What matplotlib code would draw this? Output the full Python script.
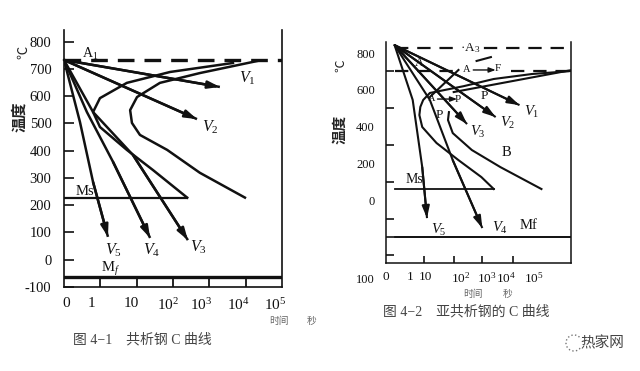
import numpy as np
import matplotlib.pyplot as plt
from matplotlib.patches import Arc

plt.rcParams['font.family'] = ['Liberation Serif', 'Noto Sans CJK SC']
plt.rcParams['mathtext.fontset'] = 'custom'
plt.rcParams['mathtext.rm'] = 'Liberation Serif'
plt.rcParams['mathtext.it'] = 'Liberation Serif:italic'

# ---------- 图4-1 共析钢 ----------
L_XTICK_POS = [0.06, 0.77, 1.84, 2.86, 3.77, 4.79, 5.81]
L_XTICK_LAB = ['0', '1', '10', '$10^2$', '$10^3$', '$10^4$', '$10^5$']
L_XMINOR = [1, 2, 3, 4, 5]
L_YTICKS = [800, 700, 600, 500, 400, 300, 200, 100, 0, -100]
L_A1 = 733
L_MS = 228
L_MS_END = 3.39
L_MF = -64
L_START_X = [4.65, 2.92, 1.73, 0.99, 0.80, 0.99, 1.73, 2.45, 3.39]
L_START_T = [722, 689, 649, 593, 542, 487, 403, 329, 228]
L_FINISH_X = [5.31, 3.74, 2.64, 2.01, 1.82, 1.87, 2.09, 2.84, 3.74, 4.98]
L_FINISH_T = [729, 685, 649, 597, 549, 502, 458, 403, 319, 228]
L_COOL = {
    'V1': ([0, 4.29], [733, 634]),
    'V2': ([0, 3.66], [733, 516]),
    'V3': ([0, 0.80, 1.90, 3.41], [733, 542, 384, 72]),
    'V4': ([0, 0.63, 1.35, 2.37], [733, 542, 359, 80]),
    'V5': ([0, 0.44, 0.80, 1.21], [733, 505, 285, 84]),
}
L_VLAB = {'V1': (5.04, 667), 'V2': (4.02, 487), 'V3': (3.69, 47),
          'V4': (2.42, 33), 'V5': (1.35, 36)}

# ---------- 图4-2 亚共析钢 ----------
R_XTICK_POS = [-0.36, 0.64, 1.28, 2.76, 3.88, 4.68, 5.84]
R_XTICK_LAB = ['0', '1', '10', '$10^2$', '$10^3$', '$10^4$', '$10^5$']
R_XMINOR = [1.24, 2.48, 3.68, 4.96]
R_YTICKS = [800, 600, 400, 200, 0]
R_YMINOR = [700, 500, 300, 100, -100, -200, -300]
R_A3 = 827
R_A1 = 702
R_MS = 61
R_MS_END = 4.16
R_MF = -200
R_FERRITE_X = [1.48, 2.68]
R_FERRITE_T = [561, 708]
R_FERRITE_EXT_X = [3.44, 4.04]
R_FERRITE_EXT_T = [757, 778]
R_START_X = [7.36, 5.76, 4.16, 2.9, 1.48, 1.2, 1.08, 1.04, 1.16, 1.76, 2.68, 3.64, 4.16]
R_START_T = [702, 686, 659, 620, 583, 545, 507, 463, 398, 311, 218, 126, 61]
R_FIN_UP_X = [7.36, 4.96, 2.48]
R_FIN_UP_T = [706, 648, 588]
R_B_X = [2.28, 2.24, 2.44, 3.24, 4.44, 6.16]
R_B_T = [479, 436, 365, 273, 180, 61]
R_COOL = {
    'V1': ([0, 5.24], [843, 517]),
    'V2': ([0, 4.24], [843, 452]),
    'V3': ([0, 3.04], [843, 414]),
    'V4': ([0, 1.48, 2.44, 3.68], [843, 545, 218, -151]),
    'V5': ([0, 0.76, 1.16, 1.36], [843, 545, 180, -97]),
}
R_VLAB = {'V1': (5.76, 479), 'V2': (4.76, 420), 'V3': (3.48, 371),
          'V4': (4.44, -151), 'V5': (1.84, -162)}

INK = '#111111'


def arrow_line(ax, xs, ys, lw):
    ax.plot(xs, ys, color=INK, lw=lw, solid_capstyle='butt')
    ax.annotate('', xy=(xs[-1], ys[-1]), xytext=(xs[-2], ys[-2]),
                arrowprops=dict(arrowstyle='-|>,head_length=0.7,head_width=0.22',
                                color=INK, lw=lw, shrinkA=0, shrinkB=0))


fig = plt.figure(figsize=(6.4, 3.71), dpi=100)

# ---- left panel ----
ax1 = fig.add_axes([64 / 640, 1 - 287 / 371, 218 / 640, 257 / 371])
ax1.set_xlim(0, 6.0)
ax1.set_ylim(-100, 843)
ax1.spines['top'].set_visible(False)
for s in ['left', 'right', 'bottom']:
    ax1.spines[s].set_linewidth(1.2)
    ax1.spines[s].set_color(INK)
ax1.set_yticks(L_YTICKS)
ax1.set_yticklabels([str(v) for v in L_YTICKS])
ax1.tick_params(axis='y', direction='in', length=7, width=1.2, pad=9,
                labelsize=10.5, colors=INK)
ax1.set_xticks(L_XTICK_POS)
ax1.set_xticklabels(L_XTICK_LAB)
ax1.tick_params(axis='x', which='major', length=0, pad=7, labelsize=11, colors=INK)
ax1.set_xticks(L_XMINOR, minor=True)
ax1.tick_params(axis='x', which='minor', direction='in', length=6, width=1.2)

ax1.plot([0, 6.0], [L_A1, L_A1], color=INK, lw=2.4, dashes=(5, 3))
ax1.plot([0, L_MS_END], [L_MS, L_MS], color=INK, lw=1.6)
ax1.plot([0, 6.0], [L_MF, L_MF], color=INK, lw=2.4)
ax1.plot(L_START_X, L_START_T, color=INK, lw=1.8)
ax1.plot(L_FINISH_X, L_FINISH_T, color=INK, lw=1.8)
for k, (xs, ys) in L_COOL.items():
    arrow_line(ax1, xs, ys, 1.8)
    lx, ly = L_VLAB[k]
    ax1.text(lx, ly, '$%s_%s$' % (k[0], k[1]), fontsize=11.5, ha='center', va='center', color=INK)
ax1.text(0.72, 755, 'A$_1$', fontsize=10, ha='center', va='center', color=INK)
ax1.text(0.58, 249, 'Ms', fontsize=10.5, ha='center', va='center', color=INK)
ax1.text(1.27, -34, 'M$_f$', fontsize=10.5, ha='center', va='center', color=INK)

# ---- right panel ----
ax2 = fig.add_axes([386 / 640, 1 - 263 / 371, 185 / 640, 221 / 371])
ax2.set_xlim(0, 7.4)
ax2.set_ylim(-341, 860)
ax2.spines['top'].set_visible(False)
for s in ['left', 'right', 'bottom']:
    ax2.spines[s].set_linewidth(1.1)
    ax2.spines[s].set_color(INK)
ax2.set_yticks(R_YTICKS)
ax2.set_yticklabels([str(v) for v in R_YTICKS])
ax2.tick_params(axis='y', which='major', direction='in', length=0, pad=8,
                labelsize=9, colors=INK)
ax2.set_yticks(R_YMINOR, minor=True)
ax2.tick_params(axis='y', which='minor', direction='in', length=6, width=1.1)
ax2.set_xticks(R_XTICK_POS)
ax2.set_xticklabels(R_XTICK_LAB)
ax2.tick_params(axis='x', which='major', length=0, pad=6, labelsize=9.5, colors=INK)
ax2.set_xticks(R_XMINOR, minor=True)
ax2.tick_params(axis='x', which='minor', direction='in', length=5, width=1.1)
ax2.text(-0.06, -0.075, '100', transform=ax2.transAxes, fontsize=9,
         ha='right', va='center', color=INK)

ax2.plot([0, 7.4], [R_A3, R_A3], color=INK, lw=1.6, dashes=(6, 4))
ax2.plot([0, 2.68], [R_A1, R_A1], color=INK, lw=1.6, dashes=(6, 4))
ax2.plot([4.88, 7.4], [R_A1, R_A1], color=INK, lw=1.6, dashes=(6, 4))
ax2.plot(R_FERRITE_X, R_FERRITE_T, color=INK, lw=1.5)
ax2.plot(R_FERRITE_EXT_X, R_FERRITE_EXT_T, color=INK, lw=1.5)
ax2.plot(R_START_X, R_START_T, color=INK, lw=1.5)
ax2.plot(R_FIN_UP_X, R_FIN_UP_T, color=INK, lw=1.5)
ax2.plot(R_B_X, R_B_T, color=INK, lw=1.5)
ax2.plot([0, R_MS_END], [R_MS, R_MS], color=INK, lw=1.3)
ax2.plot([0, 7.4], [R_MF, R_MF], color=INK, lw=1.4)
for k, (xs, ys) in R_COOL.items():
    arrow_line(ax2, xs, ys, 1.5)
    lx, ly = R_VLAB[k]
    ax2.text(lx, ly, '$%s_%s$' % (k[0], k[1]), fontsize=10.5, ha='center', va='center', color=INK)
ax2.text(3.16, R_A3, '·A$_3$', fontsize=9.5, ha='center', va='center', color=INK,
         bbox=dict(fc='white', ec='none', pad=0.5))
ax2.text(1.04, 746, 'A', fontsize=9, ha='center', va='center', color=INK)
ax2.text(3.04, 713, 'A', fontsize=7.5, ha='center', va='center', color=INK)
ax2.annotate('', xy=(4.24, 708), xytext=(3.3, 708),
             arrowprops=dict(arrowstyle='-|>,head_length=0.4,head_width=0.15',
                             color=INK, lw=1.0, shrinkA=0, shrinkB=0))
ax2.text(4.34, 716, 'F', fontsize=8, ha='center', va='center', color=INK)
ax2.text(1.56, 553, 'A', fontsize=7.5, ha='center', va='center', color=INK)
ax2.annotate('', xy=(2.62, 550), xytext=(1.8, 550),
             arrowprops=dict(arrowstyle='-|>,head_length=0.4,head_width=0.15',
                             color=INK, lw=1.0, shrinkA=0, shrinkB=0))
ax2.text(2.66, 545, 'P', fontsize=8, ha='center', va='center', color=INK)
ax2.text(3.76, 565, 'P', fontsize=9.5, ha='center', va='center', color=INK)
ax2.text(1.88, 463, 'P', fontsize=9.5, ha='center', va='center', color=INK)
ax2.text(4.68, 257, 'B', fontsize=10.5, ha='center', va='center', color=INK)
ax2.text(0.84, 112, 'Ms', fontsize=10, ha='center', va='center', color=INK)
ax2.text(5.64, -135, 'Mf', fontsize=10.5, ha='center', va='center', color=INK)

# ---- free text ----
ov = fig.add_axes([0, 0, 1, 1], zorder=5)
ov.set_xlim(0, 640)
ov.set_ylim(371, 0)
ov.axis('off')
ov.patch.set_alpha(0)
ov.text(19, 117, '温度', rotation=90, fontsize=11, fontweight='bold',
        family='Noto Sans CJK SC', ha='center', va='center', color='#222')
ov.text(24, 52, '℃', rotation=90, fontsize=9.5, family='Noto Sans CJK SC',
        ha='center', va='center', color='#222')
ov.text(339, 129, '温度', rotation=90, fontsize=10.5, fontweight='bold',
        family='Noto Sans CJK SC', ha='center', va='center', color='#222')
ov.text(341, 66, '℃', rotation=90, fontsize=9, family='Noto Sans CJK SC',
        ha='center', va='center', color='#222')
ov.text(279, 321, '时间', fontsize=7, family='Noto Sans CJK SC',
        ha='center', va='center', color='#666')
ov.text(312, 321, '秒', fontsize=7, family='Noto Sans CJK SC',
        ha='center', va='center', color='#666')
ov.text(473, 294, '时间', fontsize=7, family='Noto Sans CJK SC',
        ha='center', va='center', color='#666')
ov.text(508, 294, '秒', fontsize=7, family='Noto Sans CJK SC',
        ha='center', va='center', color='#666')
ov.text(142, 340, '图 4−1　共析钢 C 曲线', fontsize=10, ha='center', va='center',
        color='#444')
ov.text(466, 312, '图 4−2　亚共析钢的 C 曲线', fontsize=10, ha='center', va='center',
        color='#444')
ov.add_patch(Arc((574, 343), 16, 16, theta1=40, theta2=330, ls=':', lw=1.0, color='#777'))
ov.text(602, 343, '热家网', fontsize=10.5, family='Noto Sans CJK SC',
        ha='center', va='center', color='#444')

fig.savefig('out.png', dpi=100)
